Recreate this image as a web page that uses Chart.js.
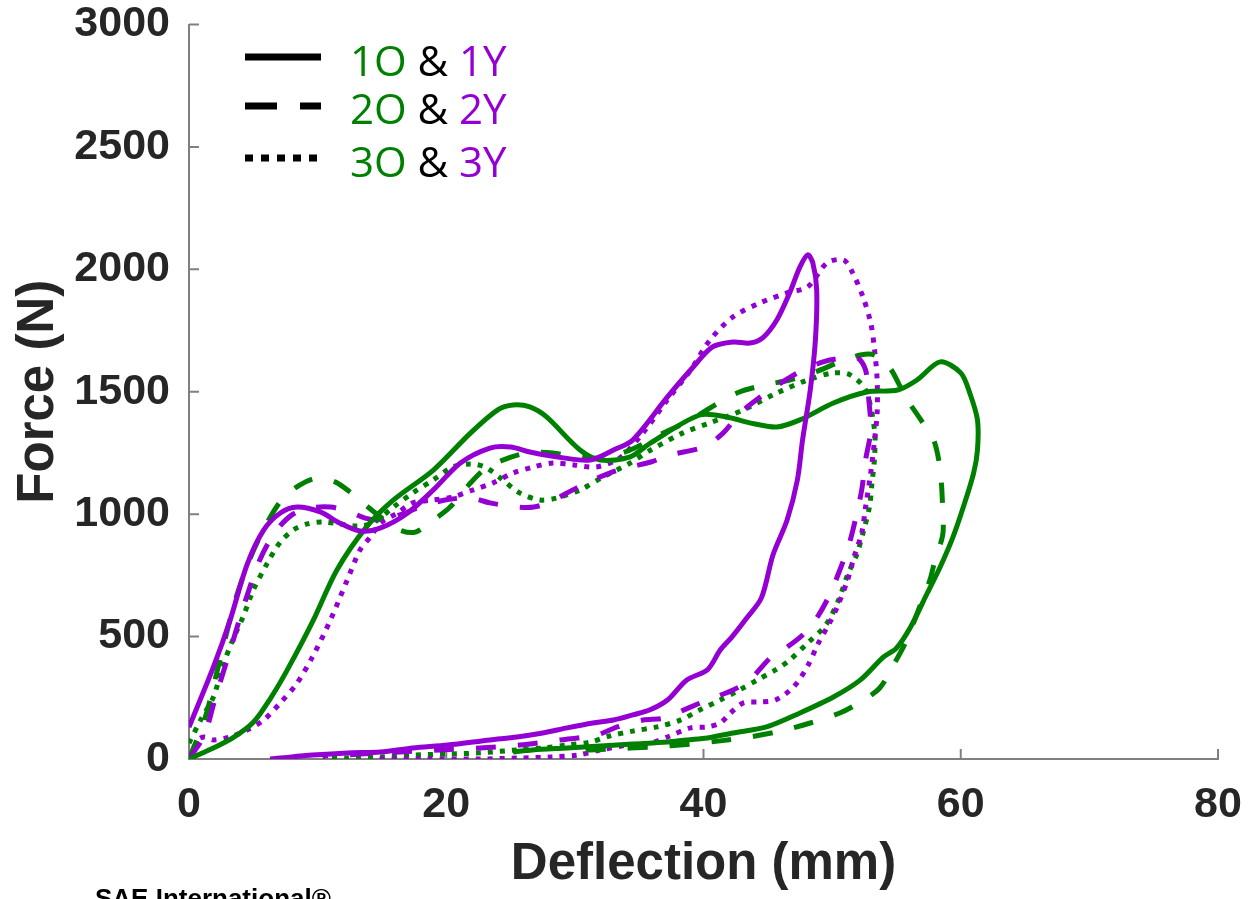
<!DOCTYPE html>
<html>
<head>
<meta charset="utf-8">
<script src="https://cdn.jsdelivr.net/npm/chart.js@4.4.1/dist/chart.umd.min.js"></script>
<style>
  html, body { margin: 0; padding: 0; background: #fff; overflow: hidden; }
  #wrap { position: relative; width: 1249px; height: 899px; overflow: hidden; }
  #legend { position: absolute; left: 0; top: 0; }
  #credit { position: absolute; left: 95px; top: 885px; font: bold 26px "Liberation Sans", Arial, sans-serif; color: #000; white-space: nowrap; line-height: 26px; }
</style>
</head>
<body>
<div id="wrap">
  <canvas id="chart" width="1249" height="899"></canvas>
  <svg id="legend" width="560" height="200" xmlns="http://www.w3.org/2000/svg">
    <g stroke="#000" stroke-width="7">
      <line x1="245" y1="57" x2="321" y2="57"/>
      <line x1="245" y1="106" x2="321" y2="106" stroke-dasharray="32 23"/>
      <line x1="245" y1="158" x2="321" y2="158" stroke-dasharray="8 8"/>
    </g>
    <g font-family="'Open Sans', 'Noto Sans', sans-serif" font-size="42" style="white-space:pre">
      <text x="350" y="76"><tspan fill="#008000">1O</tspan><tspan fill="#000"> &amp; </tspan><tspan fill="#9400d3">1Y</tspan></text>
      <text x="350" y="124"><tspan fill="#008000">2O</tspan><tspan fill="#000"> &amp; </tspan><tspan fill="#9400d3">2Y</tspan></text>
      <text x="350" y="177"><tspan fill="#008000">3O</tspan><tspan fill="#000"> &amp; </tspan><tspan fill="#9400d3">3Y</tspan></text>
    </g>
  </svg>
  <div id="credit">SAE International®</div>
</div>
<script>
// deflection (mm) / force (N), loading then unloading
const defl1Y = [0, 1.9, 3.2, 4.5, 5.8, 7.1, 8.4, 10.2, 11.7, 13.3, 14.9, 17.0, 19.0, 21.1, 23.4, 25.0, 26.5, 29.1, 31.2, 33.0, 34.5, 37.2, 39.2, 40.7, 42.3, 43.6, 44.6, 45.7, 46.7, 47.5, 48.1, 48.5, 48.8, 48.7, 48.3, 47.7, 47.3, 46.5, 45.4, 44.5, 43.3, 42.2, 41.3, 40.3, 38.7, 37.2, 35.8, 34.5, 33.0, 31.4, 29.4, 27.5, 25.5, 23.4, 20.1, 17.4, 14.9, 12.3, 9.6, 7.1, 6.3];
const force1Y = [130, 376, 568, 792, 935, 1005, 1029, 1009, 964, 931, 944, 1005, 1099, 1209, 1270, 1274, 1254, 1230, 1221, 1262, 1303, 1479, 1601, 1683, 1703, 1699, 1720, 1793, 1904, 2010, 2059, 2026, 1916, 1712, 1507, 1303, 1140, 976, 833, 658, 572, 498, 445, 364, 323, 241, 200, 180, 159, 147, 127, 106, 90, 78, 57, 45, 29, 25, 16, 4, 0];

const defl1O = [0, 1.9, 3.4, 5.0, 6.3, 7.6, 9.6, 11.5, 13.8, 15.9, 19.0, 21.9, 24.0, 25.2, 26.5, 27.8, 30.4, 32.0, 34.3, 35.9, 39.7, 41.8, 43.6, 45.7, 47.5, 50.1, 52.7, 55.1, 56.6, 58.4, 60.0, 60.7, 61.3, 61.3, 61.0, 60.2, 59.4, 58.4, 57.4, 56.1, 55.0, 54.0, 52.2, 50.1, 47.5, 44.9, 42.3, 40.3, 38.7, 37.2, 34.5, 32.0, 29.4, 26.7, 25.2];
const force1O = [0, 45, 86, 150, 245, 360, 560, 772, 948, 1058, 1180, 1332, 1426, 1446, 1438, 1397, 1262, 1221, 1234, 1291, 1405, 1397, 1373, 1356, 1385, 1454, 1499, 1507, 1548, 1622, 1577, 1495, 1385, 1262, 1168, 1029, 907, 784, 678, 539, 453, 417, 323, 253, 188, 131, 106, 86, 78, 69, 61, 53, 45, 37, 29];

const defl2Y = [0, 1.2, 2.0, 3.2, 4.4, 5.5, 6.7, 8.0, 9.4, 11.0, 12.3, 13.7, 15.1, 16.4, 18.0, 19.9, 21.9, 23.4, 25.5, 26.8, 28.1, 29.4, 30.9, 32.7, 34.3, 35.9, 37.4, 40.0, 41.5, 42.8, 44.2, 46.0, 47.3, 49.3, 50.9, 52.0, 52.6, 52.8, 53.0, 52.6, 52.3, 51.8, 51.3, 50.6, 49.8, 48.9, 47.8, 46.5, 45.2, 43.6, 42.3, 40.3, 38.8, 36.9, 35.3, 33.3, 31.7, 28.9, 25.7, 22.6, 19.5, 16.4, 13.3, 10.4];
const force2Y = [0, 98, 241, 445, 649, 813, 927, 997, 1025, 1029, 1013, 984, 976, 997, 1029, 1058, 1066, 1046, 1029, 1029, 1050, 1087, 1127, 1168, 1193, 1213, 1242, 1274, 1330, 1410, 1470, 1535, 1577, 1622, 1638, 1638, 1589, 1495, 1344, 1221, 1099, 976, 874, 772, 670, 584, 511, 457, 413, 323, 282, 241, 208, 167, 159, 131, 98, 78, 57, 45, 37, 29, 20, 12];

const defl2O = [0, 1.2, 2.4, 3.6, 4.7, 5.9, 7.2, 8.6, 10.0, 11.4, 12.5, 13.7, 15.2, 16.4, 17.6, 19.0, 20.3, 21.6, 22.9, 24.4, 26.3, 28.3, 30.0, 32.0, 34.3, 36.6, 39.0, 40.9, 42.8, 44.8, 46.7, 48.7, 50.6, 52.2, 53.3, 54.5, 55.7, 56.9, 57.9, 58.4, 58.6, 58.6, 58.0, 57.6, 56.8, 55.8, 54.9, 53.7, 52.2, 50.6, 48.3, 46.0, 43.6, 41.3, 39.0, 35.9, 32.7, 29.6];
const force2O = [0, 159, 404, 649, 813, 948, 1058, 1119, 1148, 1131, 1091, 1038, 976, 935, 927, 976, 1029, 1111, 1180, 1221, 1250, 1250, 1234, 1230, 1262, 1324, 1385, 1446, 1499, 1528, 1548, 1581, 1622, 1650, 1650, 1597, 1479, 1385, 1303, 1181, 1017, 915, 813, 731, 621, 486, 396, 290, 233, 188, 147, 114, 90, 74, 61, 49, 41, 33];

const defl3Y = [0, 0.7, 1.2, 1.9, 3.2, 4.5, 5.8, 7.1, 8.4, 9.6, 11.0, 12.3, 13.3, 14.1, 14.9, 16.2, 17.4, 19.0, 20.5, 22.1, 23.6, 25.2, 26.8, 28.3, 29.9, 31.7, 33.5, 35.3, 37.2, 39.0, 40.5, 42.3, 44.4, 46.5, 48.1, 49.6, 50.9, 51.6, 52.4, 53.0, 53.3, 53.5, 53.5, 53.3, 53.0, 52.6, 52.3, 51.7, 51.2, 50.4, 49.8, 48.9, 48.1, 47.0, 45.6, 44.4, 43.1, 42.1, 41.3, 40.3, 39.0, 37.2, 35.9, 34.1, 32.0, 30.2, 28.1, 25.7, 22.6, 18.5, 14.6];
const force3Y = [0, 78, 90, 78, 90, 118, 159, 229, 310, 417, 568, 731, 854, 907, 964, 1005, 1046, 1058, 1070, 1099, 1127, 1168, 1193, 1209, 1201, 1193, 1230, 1332, 1467, 1589, 1711, 1806, 1863, 1904, 1928, 2026, 2038, 1985, 1887, 1781, 1671, 1548, 1413, 1303, 1168, 1029, 923, 825, 731, 621, 556, 470, 380, 294, 241, 233, 229, 188, 147, 131, 127, 90, 65, 57, 37, 16, 8, 4, 0, 0, 0];

const defl3O = [0, 0.9, 1.9, 2.6, 3.4, 4.2, 5.0, 6.1, 7.1, 8.1, 9.2, 10.4, 11.7, 13.1, 14.3, 15.9, 17.4, 19.0, 20.5, 21.9, 23.0, 24.2, 25.7, 27.3, 28.6, 30.4, 32.2, 34.3, 35.9, 38.4, 40.5, 43.1, 45.7, 48.1, 50.1, 51.4, 52.6, 53.3, 53.3, 53.1, 52.9, 52.4, 51.9, 51.2, 50.5, 49.5, 48.1, 46.7, 45.6, 44.2, 42.8, 41.3, 39.7, 38.2, 36.4, 34.5, 32.7, 31.2, 29.4, 27.5, 25.5, 22.6, 20.1, 17.4, 14.9, 12.3, 10.4];
const force3O = [65, 159, 253, 376, 486, 580, 690, 801, 886, 935, 960, 968, 960, 952, 964, 1029, 1087, 1140, 1193, 1205, 1193, 1148, 1087, 1058, 1066, 1099, 1152, 1209, 1262, 1332, 1373, 1426, 1495, 1548, 1577, 1569, 1507, 1344, 1234, 1127, 1029, 923, 833, 752, 649, 547, 474, 404, 364, 323, 282, 241, 200, 159, 131, 114, 94, 69, 57, 45, 37, 25, 20, 16, 8, 4, 4];

const xTicks = [0, 20, 40, 60, 80];
const yTicks = [0, 500, 1000, 1500, 2000, 2500, 3000];

const GREEN = "#008000";
const PURPLE = "#9400d3";
const AXIS = "#808080";
const TEXT = "#262626";
const FONT = "'Liberation Sans', Arial, Helvetica, sans-serif";
const DASHED = [20, 22];
const DOTTED = [5, 7];

function pts(xs, ys) {
  return xs.map((x, i) => ({ x: x, y: ys[i] }));
}

function curve(label, xs, ys, color, dash) {
  return {
    label: label,
    data: pts(xs, ys),
    borderColor: color,
    borderWidth: 5,
    borderDash: dash,
    showLine: true,
    pointRadius: 0,
    tension: 0.3,
    borderCapStyle: "butt",
    fill: false
  };
}

// MATLAB-style ticks pointing into the plot
const inwardTicks = {
  id: "inwardTicks",
  beforeDatasetsDraw(chart) {
    const { ctx, chartArea: a, scales: { x, y } } = chart;
    ctx.save();
    ctx.strokeStyle = AXIS;
    ctx.lineWidth = 2;
    ctx.beginPath();
    xTicks.forEach(v => {
      const p = x.getPixelForValue(v);
      ctx.moveTo(p, a.bottom);
      ctx.lineTo(p, a.bottom - 10);
    });
    yTicks.forEach(v => {
      const p = y.getPixelForValue(v);
      ctx.moveTo(a.left, p);
      ctx.lineTo(a.left + 10, p);
    });
    ctx.stroke();
    ctx.restore();
  }
};

const tickFont = { family: FONT, weight: "bold", size: 43 };
const titleFont = { family: FONT, weight: "bold", size: 51 };

document.addEventListener("DOMContentLoaded", () => {
  const ctx = document.getElementById("chart");
  new Chart(ctx, {
    type: "scatter",
    data: {
      datasets: [
        curve("1Y", defl1Y, force1Y, PURPLE, []),
        curve("1O", defl1O, force1O, GREEN, []),
        curve("2Y", defl2Y, force2Y, PURPLE, DASHED),
        curve("2O", defl2O, force2O, GREEN, DASHED),
        curve("3Y", defl3Y, force3Y, PURPLE, DOTTED),
        curve("3O", defl3O, force3O, GREEN, DOTTED)
      ]
    },
    options: {
      responsive: false,
      animation: false,
      layout: { padding: { top: 24.5, right: 31, left: 0, bottom: 0 } },
      plugins: {
        legend: { display: false },
        tooltip: { enabled: false }
      },
      scales: {
        x: {
          type: "linear",
          min: 0,
          max: 80,
          afterBuildTicks: s => { s.ticks = xTicks.map(v => ({ value: v })); },
          ticks: { padding: 20, color: TEXT, font: tickFont, callback: v => String(v) },
          grid: { display: false, drawTicks: false },
          border: { display: true, color: AXIS, width: 2 },
          title: {
            display: true,
            text: "Deflection (mm)",
            color: TEXT,
            font: titleFont,
            padding: { top: 0, bottom: 3 }
          },
          afterFit: s => {
            s.height = 140;
            s.paddingLeft = 0;
            s.paddingRight = 0;
          }
        },
        y: {
          type: "linear",
          min: 0,
          max: 3000,
          afterBuildTicks: s => { s.ticks = yTicks.map(v => ({ value: v })); },
          ticks: { padding: 19, color: TEXT, font: tickFont, callback: v => String(v) },
          grid: { display: false, drawTicks: false },
          border: { display: true, color: AXIS, width: 2 },
          title: {
            display: true,
            text: "Force (N)",
            color: TEXT,
            font: titleFont,
            padding: { top: 8, bottom: 0 }
          },
          afterFit: s => {
            s.width = 189;
            s.paddingTop = 0;
            s.paddingBottom = 0;
          }
        }
      }
    },
    plugins: [inwardTicks]
  });
});
</script>
</body>
</html>
